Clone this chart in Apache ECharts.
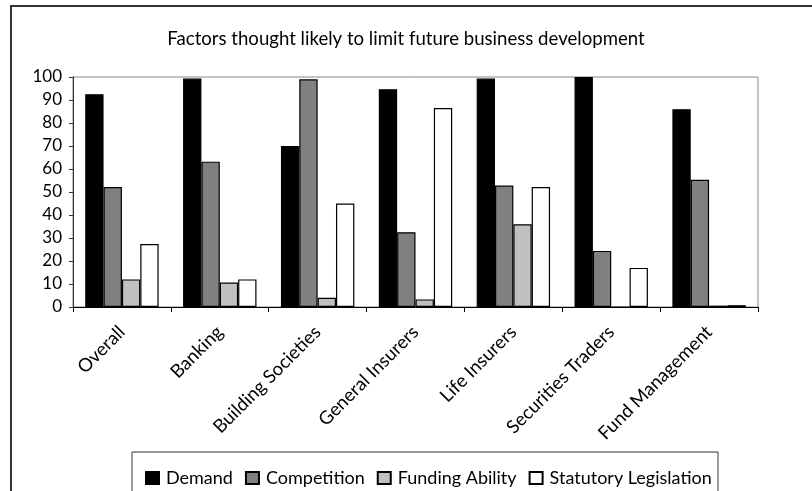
<!DOCTYPE html>
<html>
<head>
<meta charset="utf-8">
<script src="https://cdn.jsdelivr.net/npm/echarts@6/dist/echarts.min.js"></script>
<style>
  html, body { margin: 0; padding: 0; background: #fff; }
  #chart { width: 812px; height: 491px; }
</style>
</head>
<body>
<div id="chart"></div>
<script>
// sectors on the x axis
var categories = ['Overall', 'Banking', 'Building Societies', 'General Insurers',
  'Life Insurers', 'Securities Traders', 'Fund Management'];
// percentages
var demand      = [92.5, 99.3, 70, 94.7, 99.3, 100, 86];
var competition = [52.2, 63.2, 99, 32.5, 52.8, 24.4, 55.3];
var funding     = [12, 10.6, 4, 3.3, 36, 0, 0.6];
var statutory   = [27.4, 12, 45, 86.5, 52.2, 17, 0.8];
var yTicks = { min: 0, max: 100, interval: 10 };

var font = 'Lato';

function barSeries(name, data, color) {
  return {
    name: name,
    type: 'bar',
    data: data,
    barGap: '0%',
    barCategoryGap: '25%',
    itemStyle: { color: color, borderColor: '#000', borderWidth: 1.2 }
  };
}

var chart = echarts.init(document.getElementById('chart'));
chart.setOption({
  animation: false,
  textStyle: { fontFamily: font, color: '#000' },
  title: {
    text: 'Factors thought likely to limit future business development',
    left: 'center',
    top: 24,
    textStyle: { fontFamily: font, fontSize: 18.6, fontWeight: 'normal', color: '#000' }
  },
  graphic: [
    {
      type: 'rect',
      shape: { x: 11, y: 6, width: 820, height: 500 },
      style: { fill: 'none', stroke: '#333', lineWidth: 2 },
      z: -1
    },
    {
      type: 'rect',
      shape: { x: 132, y: 452, width: 586, height: 60 },
      style: { fill: 'none', stroke: '#333', lineWidth: 1 },
      z: -1
    }
  ],
  legend: {
    left: 140,
    top: 464,
    icon: 'rect',
    itemWidth: 13,
    itemHeight: 12,
    itemGap: 12,
    textStyle: { fontFamily: font, fontSize: 18, color: '#000', padding: [0, 0, 0, 2] },
    data: ['Demand', 'Competition', 'Funding Ability', 'Statutory Legislation']
  },
  grid: {
    left: 73, right: 54, top: 77, bottom: 184,
    show: true, borderColor: '#888', borderWidth: 1, backgroundColor: '#fff'
  },
  xAxis: {
    type: 'category',
    data: categories,
    axisLine: { lineStyle: { color: '#000', width: 1 } },
    axisTick: { show: true, length: 5, lineStyle: { color: '#000' } },
    axisLabel: { interval: 0, rotate: 45, margin: 22, fontFamily: font, fontSize: 18.5, color: '#000' }
  },
  yAxis: {
    type: 'value',
    min: yTicks.min,
    max: yTicks.max,
    interval: yTicks.interval,
    splitLine: { show: false },
    axisLine: { show: true, lineStyle: { color: '#333', width: 1 } },
    axisTick: { show: true, length: 4, lineStyle: { color: '#333' } },
    axisLabel: { margin: 11, fontFamily: font, fontSize: 17, color: '#000' }
  },
  series: [
    barSeries('Demand', demand, '#000000'),
    barSeries('Competition', competition, '#808080'),
    barSeries('Funding Ability', funding, '#c0c0c0'),
    barSeries('Statutory Legislation', statutory, '#ffffff')
  ]
});
</script>
</body>
</html>
